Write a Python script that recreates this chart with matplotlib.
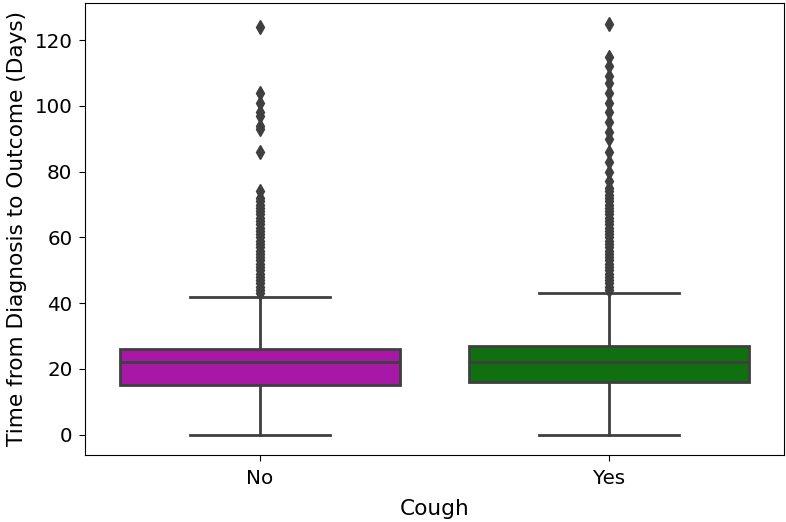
import matplotlib
matplotlib.use("Agg")
import matplotlib.pyplot as plt

# box statistics (days)
groups = ["No", "Yes"]
q1 = [15, 16]
med = [22, 22]
q3 = [26, 27]
whislo = [0, 0]
whishi = [42, 43]

fliers_no = [43, 44, 45, 46, 47, 48, 49, 50, 51, 52, 53, 54, 55, 56, 57, 58,
             59, 60, 61, 62, 63, 64, 65, 66, 67, 68, 69, 70, 71, 72, 74,
             86, 93, 94, 97, 98, 101, 104, 124]
fliers_yes = [44, 45, 46, 47, 48, 49, 50, 51, 52, 53, 54, 55, 56, 57, 58, 59,
              60, 61, 62, 63, 64, 65, 66, 67, 68, 69, 70, 71, 72, 73, 74, 75,
              77, 80, 83, 86, 90, 92, 95, 98, 101, 104, 107, 109, 112, 115, 125]

box_colors = ["#a718a7", "#107010"]
line_col = "#3f3f3f"

plt.rcParams["font.size"] = 14.3
plt.rcParams["axes.labelsize"] = 15.6
plt.rcParams["axes.labelpad"] = 5.2
plt.rcParams["xtick.major.size"] = 4.5
plt.rcParams["ytick.major.size"] = 4.5
plt.rcParams["xtick.major.pad"] = 5.5
plt.rcParams["ytick.major.pad"] = 4.5

fig = plt.figure(figsize=(7.86, 5.22), dpi=100)
ax = fig.add_axes([85 / 786, 67 / 522, 699 / 786, 452 / 522])

stats = []
for i, g in enumerate(groups):
    stats.append({
        "label": g, "q1": q1[i], "med": med[i], "q3": q3[i],
        "whislo": whislo[i], "whishi": whishi[i],
        "fliers": [fliers_no, fliers_yes][i],
    })

lw = 2.0
bp = ax.bxp(stats, positions=[0, 1], widths=0.8, patch_artist=True,
            boxprops=dict(edgecolor=line_col, linewidth=lw),
            medianprops=dict(color=line_col, linewidth=lw),
            whiskerprops=dict(color=line_col, linewidth=lw),
            capprops=dict(color=line_col, linewidth=lw),
            flierprops=dict(marker="d", markersize=7, markerfacecolor=line_col,
                            markeredgecolor=line_col, linestyle="none"),
            capwidths=0.4)
for patch, c in zip(bp["boxes"], box_colors):
    patch.set_facecolor(c)

ax.set_xlim(-0.5, 1.5)
ax.set_ylim(-6.2, 131.3)
ax.set_xticks([0, 1])
ax.set_xticklabels(groups)
ax.set_yticks([0, 20, 40, 60, 80, 100, 120])
ax.set_xlabel("Cough", labelpad=8)
ax.set_ylabel("Time from Diagnosis to Outcome (Days)")

fig.savefig("out.png", dpi=100)
